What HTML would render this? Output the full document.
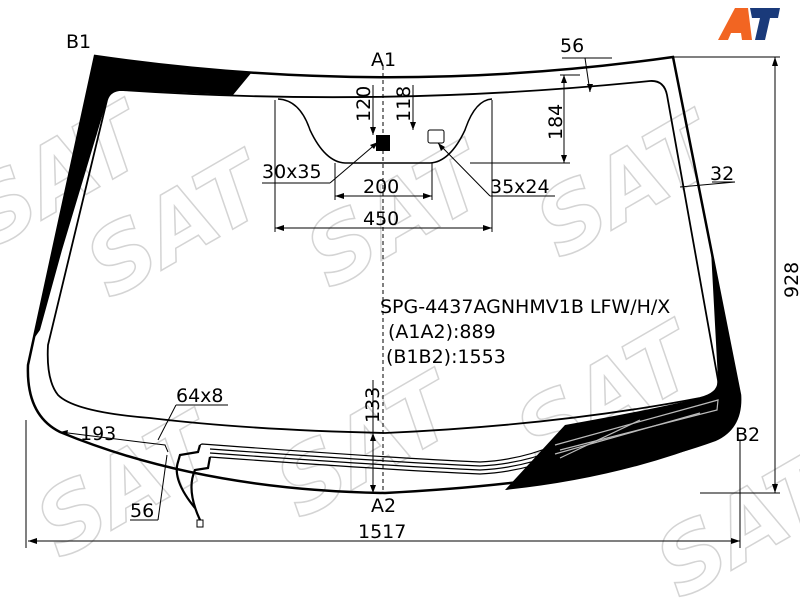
<!DOCTYPE html>
<html><head><meta charset="utf-8"><style>
html,body{margin:0;padding:0;background:#fff;}
svg{display:block;}
text{font-family:"DejaVu Sans","Liberation Sans",sans-serif;fill:#000;}
</style></head><body>
<svg width="800" height="600" viewBox="0 0 800 600" xmlns="http://www.w3.org/2000/svg">
<!-- watermark -->
<g font-size="90" font-weight="bold" font-style="italic" style="fill:none;stroke:#d4d4d4;stroke-width:1.5">
<text x="-10" y="250" transform="rotate(-30 -10 250)" style="fill:none">SAT</text>
<text x="110" y="300" transform="rotate(-30 110 300)" style="fill:none">SAT</text>
<text x="330" y="290" transform="rotate(-30 330 290)" style="fill:none">SAT</text>
<text x="560" y="260" transform="rotate(-30 560 260)" style="fill:none">SAT</text>
<text x="540" y="470" transform="rotate(-30 540 470)" style="fill:none">SAT</text>
<text x="300" y="520" transform="rotate(-30 300 520)" style="fill:none">SAT</text>
<text x="60" y="560" transform="rotate(-30 60 560)" style="fill:none">SAT</text>
<text x="680" y="600" transform="rotate(-30 680 600)" style="fill:none">SAT</text>
</g>
<!-- black frit: top-left + left band -->
<path d="M95,56 Q170,66 252,72 L233,95 L122,90 Q110,90 107,100 L62,250 L40,330 L33,340 Z" fill="#000"/>
<!-- right band + bottom right patch -->
<path d="M711,250 L740,395 Q742,428 715,440 Q620,478 505,490 L565,425 Q650,410 700,398 Q720,393 718,380 Z" fill="#000"/>
<!-- outer outline -->
<path d="M95,56 Q385,98 673,57 L740,395 Q742,428 715,440 Q600,482 385,493 Q200,490 60,432 Q26,415 28,365 Z" fill="none" stroke="#000" stroke-width="2.5"/>
<!-- inner viewing line -->
<path d="M122,90 Q385,108 650,81 Q664,80 667,95 L718,380 Q720,393 700,398 Q560,425 385,433 Q250,430 150,418 Q75,412 58,395 Q46,380 48,345 L107,100 Q110,90 122,90 Z" fill="none" stroke="#000" stroke-width="1.8"/>
<!-- sensor area -->
<path d="M278,99 Q300,100 310,130 Q325,162 345,163 L430,163 Q450,162 465,130 Q475,100 492,99" fill="none" stroke="#000" stroke-width="1.5"/>
<rect x="376" y="135" width="14" height="16" fill="#000"/>
<rect x="428" y="130" width="16" height="13" rx="2" fill="#fff" stroke="#000"/>
<!-- heating wires -->
<g fill="none" stroke="#000" stroke-width="1.2">
<path d="M200,445 L202,444 Q390,458 480,462 Q520,460 555,445"/>
<path d="M210,449 Q390,462 480,466 Q520,464 555,450"/>
<path d="M210,453 Q390,466 480,470 Q520,468 555,454"/>
<path d="M210,457 Q390,470 480,474 Q520,472 555,458"/>
</g>
<g fill="none" stroke="#000" stroke-width="2.2">
<path d="M200,445 L198,452 L180,455 L178,462 Q172,480 195,508"/>
<path d="M210,457 L208,468 L195,470 Q186,490 200,520"/>
</g>
<rect x="197" y="520" width="6" height="7" fill="#fff" stroke="#000"/>
<g fill="none" stroke="#bbb" stroke-width="1.2">
<path d="M555,445 L700,405 L718,400 L717,410 L560,450"/>
<path d="M555,454 L700,413"/>
<path d="M560,458 L640,420"/>
</g>
<!-- A1-A2 dashed -->
<line x1="383" y1="66" x2="383" y2="492" stroke="#000" stroke-dasharray="4,3"/>
<!-- dimensions -->
<g stroke="#000" stroke-width="1" fill="none">
<line x1="673" y1="57" x2="780" y2="57"/><line x1="700" y1="493" x2="780" y2="493"/>
<line x1="775" y1="57" x2="775" y2="493"/>
<line x1="26" y1="420" x2="26" y2="548"/><line x1="740" y1="440" x2="740" y2="548"/>
<line x1="28" y1="541" x2="740" y2="541"/>
<line x1="275" y1="100" x2="275" y2="232"/><line x1="492" y1="100" x2="492" y2="232"/>
<line x1="275" y1="228" x2="492" y2="228"/>
<line x1="335" y1="163" x2="335" y2="200"/><line x1="432" y1="163" x2="432" y2="200"/>
<line x1="335" y1="196" x2="432" y2="196"/>
<line x1="373" y1="85" x2="373" y2="135"/>
<line x1="413" y1="85" x2="413" y2="130"/>
<line x1="564" y1="75" x2="564" y2="163"/><line x1="470" y1="163" x2="570" y2="163"/>
<line x1="560" y1="75" x2="580" y2="75"/>
<line x1="585" y1="58" x2="590" y2="92"/>
<line x1="562" y1="58" x2="612" y2="58"/>
<line x1="680" y1="187" x2="735" y2="182"/><line x1="712" y1="182" x2="735" y2="182"/>
<line x1="262" y1="183" x2="330" y2="183"/><line x1="330" y1="183" x2="378" y2="142"/>
<line x1="438" y1="143" x2="490" y2="196"/><line x1="490" y1="196" x2="555" y2="196"/>
<line x1="373" y1="380" x2="373" y2="493"/>
<line x1="60" y1="432" x2="140" y2="442"/>
<path d="M140,442 L165,445 L168,452"/>
<line x1="176" y1="405" x2="228" y2="405"/><line x1="176" y1="405" x2="158" y2="440"/>
<line x1="130" y1="520" x2="158" y2="520"/><line x1="158" y1="520" x2="167" y2="455"/>
</g>
<g fill="#000">
<path d="M775,57 l-3,9 h6z"/><path d="M775,493 l-3,-9 h6z"/>
<path d="M28,541 l9,-3 v6z"/><path d="M740,541 l-9,-3 v6z"/>
<path d="M275,228 l9,-3 v6z"/><path d="M492,228 l-9,-3 v6z"/>
<path d="M335,196 l9,-3 v6z"/><path d="M432,196 l-9,-3 v6z"/>
<path d="M378,142 l-8,3 l4,4z"/><path d="M438,143 l3,8 l4,-4z"/>
<path d="M60,432 l8,-2 l-1,5z"/>
<path d="M564,75 l-3,8 h6z"/><path d="M564,163 l-3,-8 h6z"/>
<path d="M590,92 l-3,-8 l6,0z"/>
<path d="M373,135 l-3,-8 h6z"/><path d="M413,130 l-3,-8 h6z"/>
<path d="M373,433 l-3,8 h6z"/><path d="M373,493 l-3,-8 h6z"/>
</g>
<g font-size="19">
<text x="66" y="48">B1</text>
<text x="371" y="66">A1</text>
<text x="560" y="52">56</text>
<text x="735" y="441">B2</text>
<text x="371" y="512">A2</text>
<text x="358" y="538">1517</text>
<text x="262" y="178">30x35</text>
<text x="363" y="193">200</text>
<text x="490" y="193">35x24</text>
<text x="363" y="225">450</text>
<text x="710" y="180">32</text>
<text x="176" y="402">64x8</text>
<text x="80" y="440">193</text>
<text x="130" y="517">56</text>
<text x="380" y="313">SPG-4437AGNHMV1B LFW/H/X</text>
<text x="388" y="338">(A1A2):889</text>
<text x="386" y="363">(B1B2):1553</text>
<text transform="translate(370,122) rotate(-90)">120</text>
<text transform="translate(410,122) rotate(-90)">118</text>
<text transform="translate(562,140) rotate(-90)">184</text>
<text transform="translate(798,298) rotate(-90)">928</text>
<text transform="translate(379,423) rotate(-90)">133</text>
</g>
<!-- logo -->
<g>
<path d="M718,40 L735,8 L748,8 L752,40 L742,40 L741,33 L731,33 L728,40 Z" fill="#f26522"/>
<path d="M750,8 L780,8 L778,18 L770,18 L765,40 L755,40 L760,18 L752,18 Z" fill="#1a3a7a"/>
</g>
</svg>
</body></html>
